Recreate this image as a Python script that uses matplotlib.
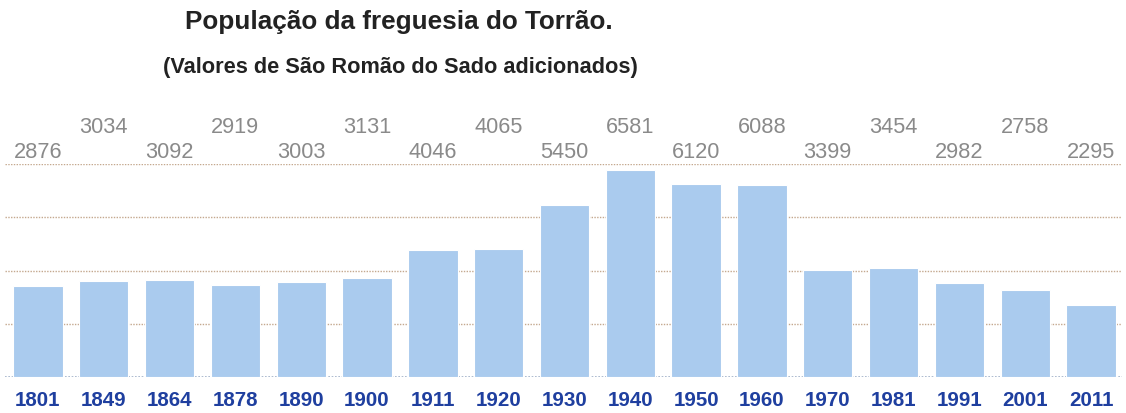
import matplotlib
matplotlib.use("Agg")
import matplotlib.pyplot as plt
import matplotlib.transforms as mtransforms
import numpy as np

anos = ["1801", "1849", "1864", "1878", "1890", "1900", "1911", "1920", "1930",
        "1940", "1950", "1960", "1970", "1981", "1991", "2001", "2011"]
populacao = [2876, 3034, 3092, 2919, 3003, 3131, 4046, 4065, 5450,
             6581, 6120, 6088, 3399, 3454, 2982, 2758, 2295]

plt.rcParams['font.family'] = ['Liberation Sans', 'DejaVu Sans']

fig = plt.figure(figsize=(11.26, 4.14), dpi=100)
ax = fig.add_axes([5 / 1126, 36 / 414, 1117 / 1126, 213 / 414])

x = np.arange(len(anos))
ytop = 6760
ax.bar(x, populacao, width=0.75, color='#aacbee', edgecolor='white', linewidth=0.8, zorder=2)

# dotted gridlines
for k in range(1, 5):
    ax.axhline(ytop * k / 4, color='#c4a88e', linestyle=(0, (1, 1)), linewidth=1, zorder=1)
ax.axhline(0, color='#9fb0c8', linestyle=(0, (1, 1)), linewidth=1.2, zorder=1)

ax.set_xlim(-0.50, 16.47)
ax.set_ylim(0, ytop)
for s in ax.spines.values():
    s.set_visible(False)
ax.set_xticks([])
ax.set_yticks([])

trans = mtransforms.blended_transform_factory(ax.transData, ax.transAxes)
for i, (a, v) in enumerate(zip(anos, populacao)):
    ylab = 1.061 if i % 2 == 0 else 1.178
    ax.text(i, ylab, str(v), transform=trans, ha='center', va='center',
            fontsize=15.7, color='#8a8a8a')
    ax.text(i, -0.104, a, transform=trans, ha='center', va='center',
            fontsize=14.8, fontweight='bold', color='#1f3f9f')

fig.text(399 / 1126, 1 - 22 / 414, "População da freguesia do Torrão.", ha='center', va='center',
         fontsize=18.8, fontweight='bold', color='#222222')
fig.text(400 / 1126, 1 - 68 / 414, "(Valores de São Romão do Sado adicionados)", ha='center', va='center',
         fontsize=15.7, fontweight='bold', color='#222222')

fig.savefig("out.png", dpi=100)
